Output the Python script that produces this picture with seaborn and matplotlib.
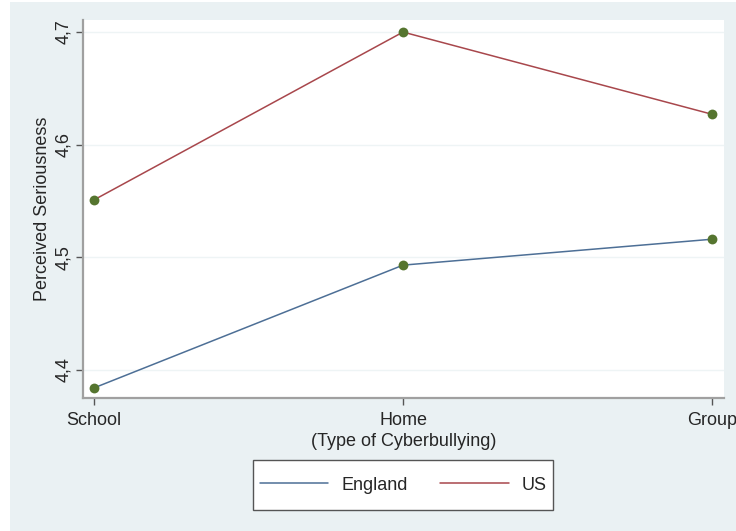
import matplotlib
matplotlib.use("Agg")
import matplotlib.pyplot as plt
from matplotlib.lines import Line2D
from matplotlib.patches import Rectangle
import seaborn as sns
import pandas as pd

categories = ["School", "Home", "Group"]
england = [4.384, 4.493, 4.516]
us = [4.551, 4.700, 4.627]
series_names = ["England", "US"]
y_ticks = [4.4, 4.5, 4.6, 4.7]
y_tick_labels = ["4,4", "4,5", "4,6", "4,7"]

BG = "#EAF1F3"
C_ENG = "#4D6F96"
C_US = "#A8474C"
C_MARK = "#55752F"
SPINE = "#A0A0A0"

sns.set_theme(style="white")
plt.rcParams["font.family"] = ["Liberation Sans", "DejaVu Sans"]

rows = []
for i, c in enumerate(categories):
    rows.append({"pos": i, "cat": c, "country": series_names[0], "val": england[i]})
    rows.append({"pos": i, "cat": c, "country": series_names[1], "val": us[i]})
df = pd.DataFrame(rows)

W, H = 736, 531
fig = plt.figure(figsize=(W / 100, H / 100), dpi=100, facecolor="white")
bg = Rectangle((10 / W, 0), 1 - 10 / W, 1 - 2 / H, transform=fig.transFigure,
               facecolor=BG, edgecolor="none", zorder=-10)
fig.add_artist(bg)
# legend box
lbox = Rectangle((253 / W, 1 - 510 / H), 300 / W, 50 / H, transform=fig.transFigure,
                 facecolor="white", edgecolor="#555555", linewidth=1.0, zorder=-5)
fig.add_artist(lbox)

ax = fig.add_axes([83 / W, 1 - 398 / H, (724 - 83) / W, (398 - 20) / H])
ax.set_zorder(1)
ax.set_facecolor("white")

sns.lineplot(data=df, x="pos", y="val", hue="country", hue_order=series_names,
             palette=[C_ENG, C_US], linewidth=1.1, legend=False, ax=ax, zorder=3)
sns.scatterplot(data=df, x="pos", y="val", color=C_MARK, s=50, edgecolor=C_MARK,
                linewidth=0, legend=False, ax=ax, zorder=4)

ax.set_xlim(-0.036, 2.039)
ax.set_ylim(4.375, 4.7107)
ax.set_xticks(range(len(categories)))
ax.set_xticklabels(categories, fontsize=13, color="#262626")
ax.set_yticks(y_ticks)
ax.set_yticklabels(y_tick_labels, fontsize=13, color="#262626", rotation=90, va="center")
for t in y_ticks:
    ax.axhline(t, color="#EEF4F5", lw=1.0, zorder=1)
ax.grid(False)

for s in ["top", "right"]:
    ax.spines[s].set_visible(False)
for s in ["left", "bottom"]:
    ax.spines[s].set_color(SPINE)
    ax.spines[s].set_linewidth(1.6)
ax.tick_params(axis="both", direction="out", length=5, width=1, color="#555555",
               left=True, bottom=True)
ax.tick_params(axis="x", pad=5)
ax.tick_params(axis="y", pad=3)

ax.set_xlabel("(Type of Cyberbullying)", fontsize=13, color="#262626", labelpad=3)
ax.set_ylabel("Perceived Seriousness", fontsize=13, color="#262626", labelpad=3)

handles = [Line2D([0], [0], color=C_ENG, lw=1.1), Line2D([0], [0], color=C_US, lw=1.1)]
leg = fig.legend(handles, series_names, loc="center", bbox_to_anchor=(403 / W, 1 - 485 / H),
                 ncol=2, fontsize=13, frameon=False, handlelength=3.8,
                 columnspacing=1.8, handletextpad=0.7, borderpad=0.3, borderaxespad=0)
for t in leg.get_texts():
    t.set_color("#262626")

fig.savefig("out.png", dpi=100, facecolor=fig.get_facecolor())
